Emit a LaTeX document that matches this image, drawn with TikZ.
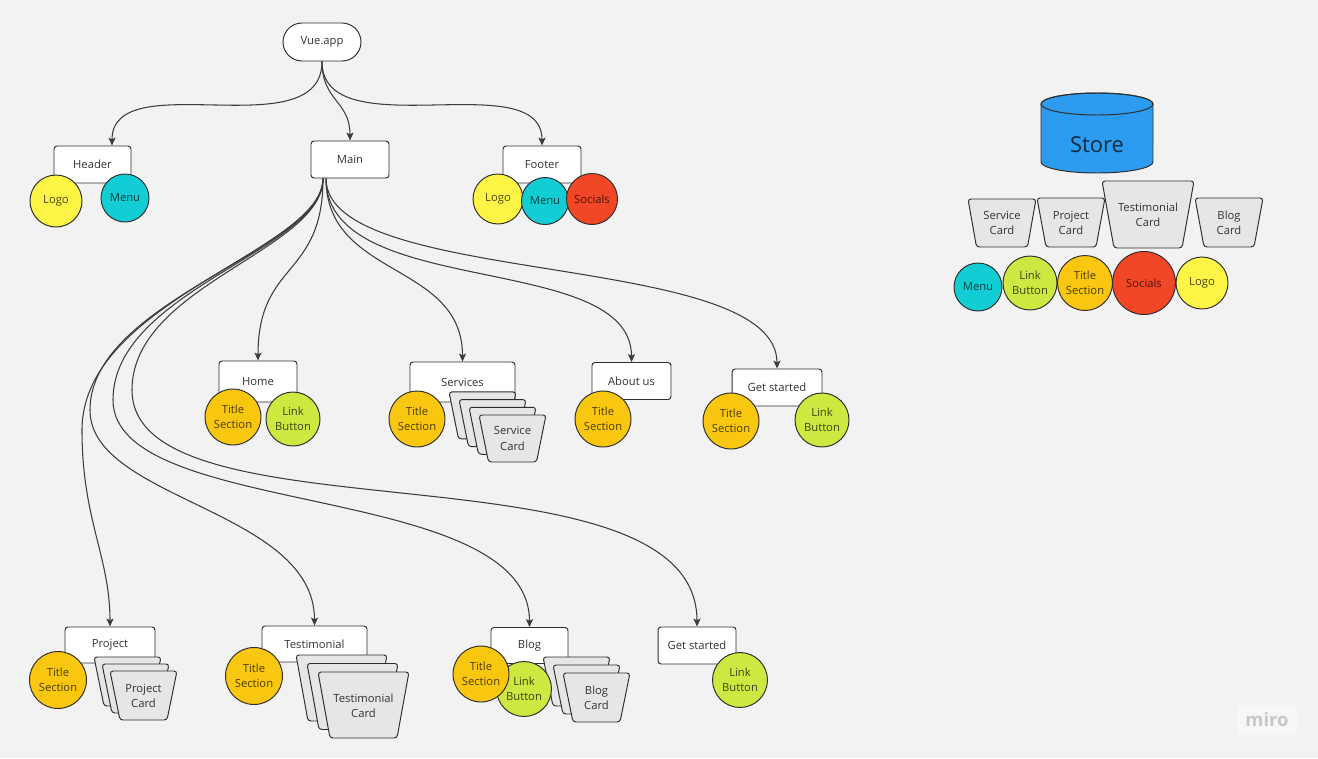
\documentclass[tikz,border=0pt]{standalone}
\usepackage{fontspec}
\setmainfont{Open Sans}
\usetikzlibrary{arrows.meta}
\definecolor{bgc}{HTML}{F2F2F2}
\definecolor{linec}{HTML}{3C3C3C}
\definecolor{edgec}{HTML}{2E2E2E}
\definecolor{textc}{HTML}{333333}
\definecolor{ylw}{HTML}{FEF445}
\definecolor{cyn}{HTML}{12CDD4}
\definecolor{rdd}{HTML}{F24726}
\definecolor{org}{HTML}{FAC710}
\definecolor{lim}{HTML}{CEE741}
\definecolor{cardc}{HTML}{E6E6E6}
\definecolor{storec}{HTML}{2D9BF0}
\newcommand{\fs}{\fontsize{6.4}{8.8}\selectfont}
\newcommand{\mcard}[6]{% cx, top y, top half width, bottom half width, height, style extra
  \draw[cardst,#6] (#1-#3,#2) -- (#1+#3,#2) -- (#1+#4,#2+#5) -- (#1-#4,#2+#5) -- cycle;}
\tikzset{
  conn/.style={draw=linec, line width=0.6pt, -{Stealth[length=4.5pt,width=4pt,inset=1pt]}},
  box/.style={draw=edgec, fill=white, rounded corners=1.7pt, line width=0.55pt, text=textc, font=\fs, inner sep=0},
  ball/.style 2 args={circle, draw=edgec, fill=#1, text=#1!30!black, minimum size=#2, line width=0.55pt, inner sep=0, font=\fs, align=center},
  cardst/.style={draw=edgec, fill=cardc, line width=0.55pt, rounded corners=1.7pt},
  cardtxt/.style={font=\fs, text=textc, align=center, inner sep=0},
}
\begin{document}
\begin{tikzpicture}[x=0.02cm, y=-0.02cm]
\useasboundingbox (0,0) rectangle (1318,758);
\fill[bgc] (0,0) rectangle (1318,758);

% ---------- top level ----------
\node[box, rounded corners=0.38cm, minimum width=1.56cm, minimum height=0.76cm] (vue) at (322,42) {Vue.app};
\node[box, minimum width=1.54cm, minimum height=0.74cm] (header) at (92.5,164.5) {Header};
\node[box, minimum width=1.56cm, minimum height=0.74cm] (main) at (350,159.5) {Main};
\node[box, minimum width=1.56cm, minimum height=0.74cm] (footer) at (542,164.5) {Footer};

\node[ball={ylw}{1.04cm}] (hlogo) at (56,201) {Logo};
\node[ball={cyn}{0.96cm}] (hmenu) at (125,198) {Menu};
\node[ball={ylw}{1.0cm}] (flogo) at (498,199) {Logo};
\node[ball={cyn}{0.94cm}] (fmenu) at (545,201) {Menu};
\node[ball={rdd}{1.02cm}] (fsoc) at (592,199) {Socials};

\coordinate (hin) at ([xshift=0.39cm]header.north);
\draw[conn] (vue.south) .. controls +(0,88) and +(0,-82) .. (hin);
\draw[conn] (vue.south) .. controls +(0,40) and +(0,-40) .. (main.north);
\draw[conn] (vue.south) .. controls +(0,88) and +(0,-82) .. (footer.north);

% ---------- second row ----------
\node[box, minimum width=1.56cm, minimum height=0.82cm] (home) at (258,381.5) {Home};
\node[ball={org}{1.12cm}] (hts) at (233,417) {Title\\Section};
\node[ball={lim}{1.08cm}] (hlb) at (293,419) {Link\\Button};

\node[box, minimum width=2.1cm, minimum height=0.8cm] (services) at (462.5,382) {Services};
\mcard{482.5}{391.9}{33.5}{24}{47}{}
\mcard{492.5}{399.6}{33.5}{24}{47}{}
\mcard{502.5}{407.3}{33.5}{24}{47}{}
\mcard{512.5}{415}{33.5}{24}{47}{}
\node[cardtxt] (svcard) at (512.5,438.5) {Service\\Card};
\node[ball={org}{1.12cm}] (sts) at (417,419) {Title\\Section};

\node[box, minimum width=1.58cm, minimum height=0.74cm] (about) at (631.5,381) {About us};
\node[ball={org}{1.12cm}] (ats) at (603,419) {Title\\Section};

\node[box, minimum width=1.8cm, minimum height=0.74cm] (gs) at (777,387.5) {Get started};
\node[ball={org}{1.12cm}] (gts) at (731,421) {Title\\Section};
\node[ball={lim}{1.08cm}] (glb) at (822,420) {Link\\Button};

% ---------- third row ----------
\node[box, minimum width=1.8cm, minimum height=0.72cm] (project) at (110,645) {Project};
\mcard{127.5}{657}{33.5}{23.5}{49}{}
\mcard{135.5}{664}{33.5}{23.5}{49}{}
\mcard{143.5}{671}{33.5}{23.5}{49}{}
\node[cardtxt] (pjcard) at (143.5,696) {Project\\Card};
\node[ball={org}{1.14cm}] (pts) at (58,680) {Title\\Section};

\node[box, minimum width=2.1cm, minimum height=0.72cm] (testi) at (314.5,644) {Testimonial};
\mcard{341.5}{655}{45.5}{33.5}{66}{}
\mcard{352.5}{663.5}{45.5}{33.5}{66}{}
\mcard{363.5}{672}{45.5}{33.5}{66}{}
\node[cardtxt] (tscard) at (363.5,706) {Testimonial\\Card};
\node[ball={org}{1.14cm}] (tts) at (254,676) {Title\\Section};

\node[box, minimum width=1.54cm, minimum height=0.72cm] (blog) at (529.5,645.5) {Blog};
\mcard{576.5}{657}{33.5}{23.5}{49}{}
\mcard{586.5}{665}{33.5}{23.5}{49}{}
\mcard{596.5}{673}{33.5}{23.5}{49}{}
\node[cardtxt] (blcard) at (596.5,698) {Blog\\Card};
\node[ball={lim}{1.1cm}] (blb) at (524,689) {Link\\Button};
\node[ball={org}{1.12cm}] (bts) at (481,674) {Title\\Section};

\node[box, minimum width=1.56cm, minimum height=0.74cm] (gs2) at (697,645.5) {Get started};
\node[ball={lim}{1.1cm}] (g2lb) at (740,680) {Link\\Button};

% ---------- connectors from Main ----------
\coordinate (mo) at ([xshift=-0.54cm]main.south);
\coordinate (mr) at ([xshift=-0.48cm]main.south);
\draw[conn] (mo) .. controls +(0,100) and +(0,-100) .. (home.north);
\draw[conn] (mr) .. controls +(0,100) and +(0,-100) .. (services.north);
\draw[conn] (mr) .. controls +(0,122) and +(0,-112) .. (about.north);
\draw[conn] (mr) .. controls +(0,110) and +(0,-119) .. (gs.north);
\draw[conn] (mo) .. controls +(0,72) and (82,300) .. (82,430) .. controls (82,520) and +(0,-70) .. (project.north);
\draw[conn] (mo) .. controls +(0,72) and (90,300) .. (90,410) .. controls (90,500) and +(0,-116) .. (testi.north);
\draw[conn] (mo) .. controls +(0,72) and (113,290) .. (113,400) .. controls (113,520) and +(0,-147) .. (blog.north);
\draw[conn] (mo) .. controls +(0,72) and (132,285) .. (132,390) .. controls (132,545) and +(0,-190) .. (gs2.north);

% ---------- store ----------
\draw[draw=edgec, fill=storec, line width=0.55pt] (1041,104) -- (1041,162) arc[start angle=180, end angle=360, x radius=1.12cm, y radius=0.22cm] -- (1153,104) arc[start angle=0, end angle=180, x radius=1.12cm, y radius=0.22cm] -- cycle;
\draw[draw=edgec, line width=0.55pt] (1097,104) ellipse[x radius=1.12cm, y radius=0.22cm];
\node[font=\fontsize{12.5}{14}\selectfont, text=storec!28!black, inner sep=0] (store) at (1097,145) {Store};

\mcard{1002}{199}{34}{25.5}{48}{}
\node[cardtxt] (sc1) at (1002,223) {Service\\Card};
\mcard{1071}{198}{34}{25}{49}{}
\node[cardtxt] (sc2) at (1071,223) {Project\\Card};
\mcard{1148}{181}{46}{34}{67}{}
\node[cardtxt] (sc3) at (1148,215) {Testimonial\\Card};
\mcard{1229}{198}{34}{25}{49}{}
\node[cardtxt] (sc4) at (1229,223) {Blog\\Card};

\node[ball={cyn}{0.96cm}] (smenu) at (978,287) {Menu};
\node[ball={lim}{1.08cm}] (slb) at (1030,283) {Link\\Button};
\node[ball={org}{1.1cm}] (sts2) at (1085,283) {Title\\Section};
\node[ball={rdd}{1.26cm}] (ssoc) at (1144,283) {Socials};
\node[ball={ylw}{1.04cm}] (slogo) at (1202,283) {Logo};

% ---------- watermark ----------
\node[fill=white!35!bgc, rounded corners=2pt, text=black!22, font=\fontsize{10.5}{12}\selectfont\bfseries, minimum width=1.2cm, minimum height=0.6cm] (miro) at (1267,720) {miro};
\end{tikzpicture}
\end{document}
